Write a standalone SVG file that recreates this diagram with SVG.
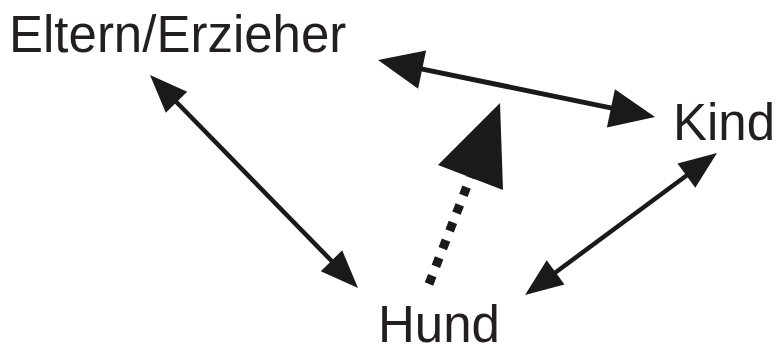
<svg xmlns="http://www.w3.org/2000/svg" width="781" height="352" viewBox="0 0 781 352">
<style>
.lbl{font-family:"Liberation Sans",Arial,Helvetica,sans-serif;font-size:51px;fill:#231f20}
.ln{stroke:#1a1a1a;stroke-width:4.5;fill:none}
.dot{stroke:#1a1a1a;stroke-width:9;fill:none;stroke-dasharray:9 10}
.hd{fill:#1a1a1a}
</style>
<rect width="781" height="352" fill="#ffffff"/>
<g id="node-eltern"><text class="lbl" x="9" y="52">Eltern/Erzieher</text></g>
<g id="node-kind"><text class="lbl" x="673" y="140">Kind</text></g>
<g id="node-hund"><text class="lbl" x="378" y="342">Hund</text></g>
<g id="connectors">
  <g id="eltern-hund">
    <line class="ln" x1="171" y1="96.5" x2="337" y2="266.5"/>
    <polygon class="hd" points="150,75 165.8,112.7 187.2,91.7"/>
    <polygon class="hd" points="358,288 320.8,271.3 342.2,250.3"/>
  </g>
  <g id="eltern-kind">
    <line class="ln" x1="415" y1="67.6" x2="618" y2="109.4" style="stroke-width:5"/>
    <polygon class="hd" points="378,60 418.1,88.7 426.1,50.5"/>
    <polygon class="hd" points="655,117 606.9,127.5 614.9,89.3"/>
  </g>
  <g id="hund-kind">
    <line class="ln" x1="550" y1="276.5" x2="692" y2="171.5"/>
    <polygon class="hd" points="525,295 564.5,284.5 546.7,260.3"/>
    <polygon class="hd" points="717,153 695.3,187.7 677.5,163.5"/>
  </g>
  <g id="hund-beziehung">
    <line class="dot" x1="429" y1="284" x2="474" y2="168"/>
    <polygon class="hd" points="500,103 438,165 503,190"/>
  </g>
</g>
</svg>
